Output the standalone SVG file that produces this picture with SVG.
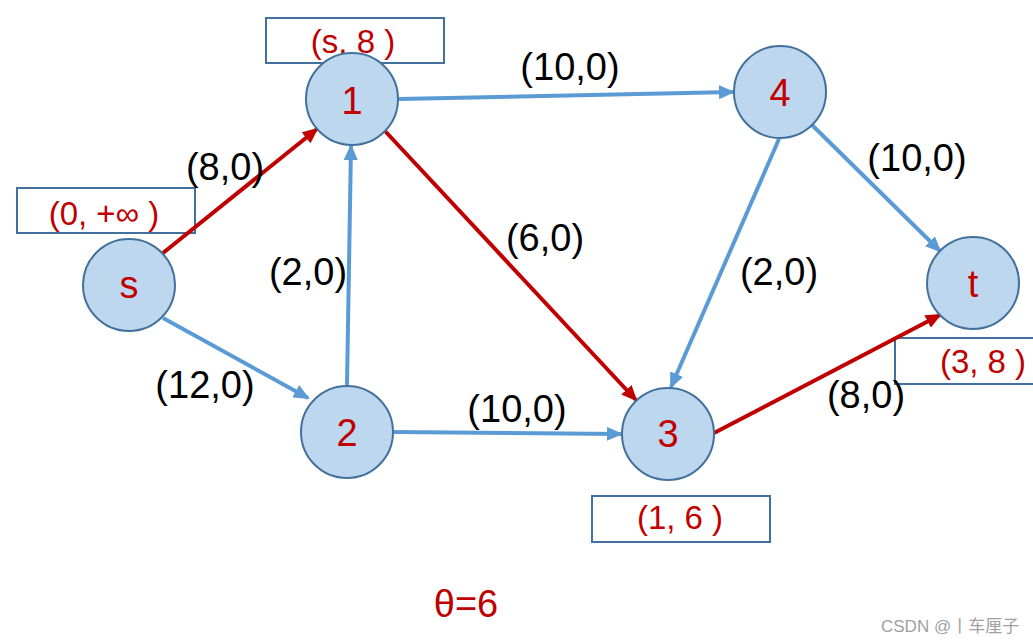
<svg xmlns="http://www.w3.org/2000/svg" width="1033" height="644" viewBox="0 0 1033 644">
<style>
.box{fill:#fff;stroke:#41719C;stroke-width:2}
.bt{font-family:"Liberation Sans",Arial,sans-serif;font-size:33px;fill:#C00000;text-anchor:middle}
.node circle{fill:#BDD7EE;stroke:#41719C;stroke-width:2}
.node text{font-family:"Liberation Sans",Arial,sans-serif;font-size:38px;fill:#C00000;text-anchor:middle}
.eb{stroke:#5B9BD5;stroke-width:4;fill:none;marker-end:url(#ab)}
.er{stroke:#C00000;stroke-width:4;fill:none;marker-end:url(#ar)}
.el{font-family:"Liberation Sans",Arial,sans-serif;font-size:38px;fill:#000;text-anchor:middle}
</style>
<defs>
<marker id="ab" markerUnits="userSpaceOnUse" markerWidth="16" markerHeight="14" refX="14" refY="7" orient="auto"><path d="M0,0 L16,7 L0,14 z" fill="#5B9BD5"/></marker>
<marker id="ar" markerUnits="userSpaceOnUse" markerWidth="16" markerHeight="14" refX="14" refY="7" orient="auto"><path d="M0,0 L16,7 L0,14 z" fill="#C00000"/></marker>
</defs>
<rect width="1033" height="644" fill="#fff"/>
<g id="labels">
<g id="lbl-1"><rect class="box" x="266" y="18" width="178" height="45"/><text class="bt" x="353" y="53">(s, 8 )</text></g>
<g id="lbl-s"><rect class="box" x="17" y="188" width="178" height="45"/><text class="bt" x="104" y="225">(0, +∞ )</text></g>
<g id="lbl-3"><rect class="box" x="592" y="496" width="178" height="46"/><text class="bt" x="680" y="529">(1, 6 )</text></g>
<g id="lbl-t"><rect class="box" x="895" y="338" width="150" height="46"/><text class="bt" x="983" y="373">(3, 8 )</text></g>
</g>
<g id="connectors">
<line class="er" x1="163" y1="253" x2="317" y2="129"/>
<line class="eb" x1="163" y1="318" x2="308" y2="398"/>
<line class="eb" x1="347" y1="385" x2="351" y2="146"/>
<line class="eb" x1="399" y1="99" x2="733" y2="92"/>
<line class="er" x1="385" y1="131" x2="636" y2="400"/>
<line class="eb" x1="394" y1="432" x2="621" y2="434"/>
<line class="eb" x1="779" y1="139" x2="671" y2="387"/>
<line class="eb" x1="812" y1="125" x2="940" y2="251"/>
<line class="er" x1="714" y1="433" x2="940" y2="315"/>
</g>
<g id="edge-labels">
<text class="el" x="225" y="180">(8,0)</text>
<text class="el" x="570" y="80">(10,0)</text>
<text class="el" x="917" y="171">(10,0)</text>
<text class="el" x="545" y="251">(6,0)</text>
<text class="el" x="308" y="285">(2,0)</text>
<text class="el" x="779" y="285">(2,0)</text>
<text class="el" x="205" y="398">(12,0)</text>
<text class="el" x="517" y="422">(10,0)</text>
<text class="el" x="866" y="408">(8,0)</text>
</g>
<g id="node-s" class="node"><circle cx="129" cy="285" r="46"/><text x="129" y="298">s</text></g>
<g id="node-1" class="node"><circle cx="352" cy="99" r="46"/><text x="352" y="114">1</text></g>
<g id="node-2" class="node"><circle cx="347" cy="432" r="46"/><text x="347" y="446">2</text></g>
<g id="node-3" class="node"><circle cx="668" cy="434" r="46"/><text x="668" y="447">3</text></g>
<g id="node-4" class="node"><circle cx="780" cy="92" r="46"/><text x="780" y="106">4</text></g>
<g id="node-t" class="node"><circle cx="973" cy="283" r="46"/><text x="973" y="297">t</text></g>
<text x="466" y="617" font-family="'Liberation Sans',Arial,sans-serif" font-size="38" fill="#C00000" text-anchor="middle">θ=6</text>
<text x="881" y="632" font-family="'Liberation Sans','Noto Sans CJK SC',sans-serif" font-size="17" fill="#a0a0a0">CSDN @丨车厘子</text>
</svg>
